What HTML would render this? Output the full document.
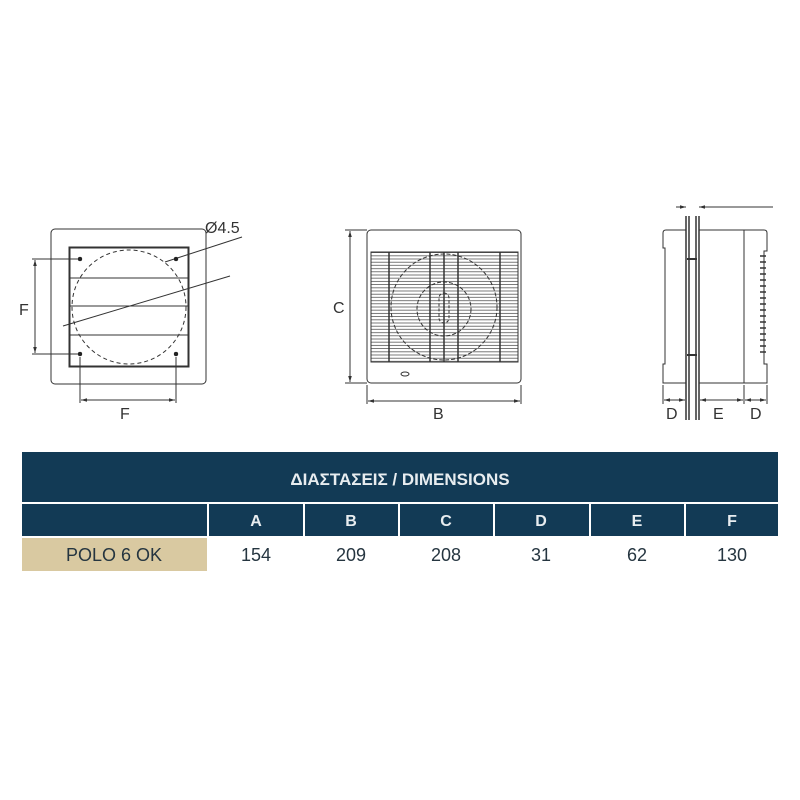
<!DOCTYPE html>
<html><head><meta charset="utf-8"><style>
body{margin:0;width:800px;height:800px;background:#fff;overflow:hidden;font-family:"Liberation Sans",sans-serif}
svg{position:absolute;left:0;top:0}
</style></head><body>
<svg width="800" height="800" viewBox="0 0 800 800" xmlns="http://www.w3.org/2000/svg">
<defs>
<pattern id="hb" x="371" y="252" width="10" height="6.4" patternUnits="userSpaceOnUse">
<line x1="0" y1="0.6" x2="10" y2="0.6" stroke="#555" stroke-width="0.8"/>
<line x1="0" y1="3.8" x2="10" y2="3.8" stroke="#555" stroke-width="0.8"/>
</pattern>
<marker id="ar" viewBox="0 0 10 10" refX="10" refY="5" markerWidth="6" markerHeight="6" orient="auto-start-reverse"><path d="M0,2 L10,5 L0,8 z" fill="#333"/></marker>
</defs>
<g fill="none" stroke="#333" stroke-width="1">
<!-- LEFT -->
<rect x="51" y="229" width="155" height="155" rx="4"/>
<rect x="69.5" y="247.5" width="119" height="119" stroke-width="2"/>
<line x1="70" y1="278" x2="188" y2="278"/>
<line x1="70" y1="306" x2="188" y2="306"/>
<line x1="70" y1="335" x2="188" y2="335"/>
<circle cx="129" cy="307" r="57" stroke-dasharray="4,3"/>
<line x1="165" y1="262" x2="242" y2="237"/>
<line x1="63" y1="326" x2="230" y2="276"/>
<line x1="32" y1="259" x2="78" y2="259"/>
<line x1="32" y1="354" x2="78" y2="354"/>
<line x1="35" y1="260" x2="35" y2="353" marker-start="url(#ar)" marker-end="url(#ar)"/>
<line x1="80" y1="357" x2="80" y2="403"/>
<line x1="176" y1="357" x2="176" y2="403"/>
<line x1="81" y1="400" x2="175" y2="400" marker-start="url(#ar)" marker-end="url(#ar)"/>
<!-- MIDDLE -->
<rect x="367" y="230" width="154" height="153" rx="4"/>
<rect x="371" y="252" width="147" height="110" fill="url(#hb)" stroke="#333"/>
<g stroke-width="1.5">
<line x1="389" y1="252" x2="389" y2="362"/><line x1="430" y1="252" x2="430" y2="362"/>
<line x1="444" y1="252" x2="444" y2="362"/><line x1="458" y1="252" x2="458" y2="362"/>
<line x1="500" y1="252" x2="500" y2="362"/>
</g>
<circle cx="444" cy="307" r="53" stroke-dasharray="4,2"/>
<circle cx="444" cy="309" r="27" stroke-dasharray="4,2"/>
<rect x="439" y="293" width="10" height="30" rx="5" stroke-dasharray="3,2"/>
<ellipse cx="405" cy="374" rx="4" ry="2"/>
<line x1="345" y1="230" x2="367" y2="230"/>
<line x1="345" y1="383" x2="367" y2="383"/>
<line x1="350" y1="231" x2="350" y2="382" marker-start="url(#ar)" marker-end="url(#ar)"/>
<line x1="367" y1="385" x2="367" y2="404"/>
<line x1="521" y1="385" x2="521" y2="404"/>
<line x1="368" y1="401" x2="520" y2="401" marker-start="url(#ar)" marker-end="url(#ar)"/>
<!-- RIGHT -->
<path d="M686,230 H666 Q663,230 663,233 V248 H665 V364 H663 V383 H686"/>
<path d="M699,230 H764 Q767,230 767,233 V251 H764 V364 H767 V383 H699"/>
<line x1="744" y1="230" x2="744" y2="383"/>
<g stroke-width="1.5"><line x1="686" y1="216" x2="686" y2="420"/><line x1="689" y1="216" x2="689" y2="420"/>
<line x1="696" y1="216" x2="696" y2="420"/><line x1="699" y1="216" x2="699" y2="420"/></g>
<line x1="687" y1="259" x2="697" y2="259" stroke-width="2"/>
<line x1="687" y1="355" x2="697" y2="355" stroke-width="2"/>
<g stroke-width="1.5">
<line x1="760" y1="256" x2="766" y2="256"/><line x1="760" y1="262" x2="766" y2="262"/><line x1="760" y1="268" x2="766" y2="268"/>
<line x1="760" y1="274" x2="766" y2="274"/><line x1="760" y1="280" x2="766" y2="280"/><line x1="760" y1="286" x2="766" y2="286"/>
<line x1="760" y1="292" x2="766" y2="292"/><line x1="760" y1="298" x2="766" y2="298"/><line x1="760" y1="304" x2="766" y2="304"/>
<line x1="760" y1="310" x2="766" y2="310"/><line x1="760" y1="316" x2="766" y2="316"/><line x1="760" y1="322" x2="766" y2="322"/>
<line x1="760" y1="328" x2="766" y2="328"/><line x1="760" y1="334" x2="766" y2="334"/><line x1="760" y1="340" x2="766" y2="340"/>
<line x1="760" y1="346" x2="766" y2="346"/><line x1="760" y1="352" x2="766" y2="352"/>
</g>
<line x1="676" y1="207" x2="686" y2="207" marker-end="url(#ar)"/>
<line x1="709" y1="207" x2="773" y2="207"/>
<line x1="709" y1="207" x2="699" y2="207" marker-end="url(#ar)"/>
<line x1="663" y1="385" x2="663" y2="404"/>
<line x1="744" y1="385" x2="744" y2="404"/>
<line x1="767" y1="385" x2="767" y2="404"/>
<line x1="664" y1="400" x2="685" y2="400" marker-start="url(#ar)" marker-end="url(#ar)"/>
<line x1="700" y1="400" x2="743" y2="400" marker-start="url(#ar)" marker-end="url(#ar)"/>
<line x1="745" y1="400" x2="766" y2="400" marker-start="url(#ar)" marker-end="url(#ar)"/>
</g>
<g fill="#222" stroke="#222" stroke-width="0.5">
<circle cx="80" cy="259" r="2"/><circle cx="80" cy="354" r="2"/><circle cx="176" cy="354" r="2"/><circle cx="176" cy="259" r="2"/>
</g>
<g font-family="Liberation Sans, sans-serif" font-size="16" fill="#333">
<text x="205" y="233">Ø4.5</text>
<text x="19" y="315">F</text>
<text x="120" y="419">F</text>
<text x="333" y="313">C</text>
<text x="433" y="419">B</text>
<text x="666" y="419">D</text>
<text x="713" y="419">E</text>
<text x="750" y="419">D</text>
</g>
<!-- TABLE -->
<rect x="22" y="452" width="756" height="50" fill="#123a55"/>
<text x="400" y="485" text-anchor="middle" font-size="17" font-weight="bold" fill="#e8edf0" font-family="Liberation Sans, sans-serif">ΔΙΑΣΤΑΣΕΙΣ / DIMENSIONS</text>
<g fill="#123a55">
<rect x="22" y="504" width="185" height="32"/>
<rect x="209" y="504" width="94" height="32"/>
<rect x="305" y="504" width="93" height="32"/>
<rect x="400" y="504" width="93" height="32"/>
<rect x="495" y="504" width="94" height="32"/>
<rect x="591" y="504" width="93" height="32"/>
<rect x="686" y="504" width="92" height="32"/>
</g>
<g font-family="Liberation Sans, sans-serif" font-size="16" font-weight="bold" fill="#e8edf0" text-anchor="middle">
<text x="256" y="526">A</text><text x="351" y="526">B</text><text x="446" y="526">C</text>
<text x="541" y="526">D</text><text x="637" y="526">E</text><text x="732" y="526">F</text>
</g>
<rect x="22" y="538" width="185" height="33" fill="#d9c9a1"/>
<g font-family="Liberation Sans, sans-serif" font-size="18" fill="#253540" text-anchor="middle">
<text x="114" y="561">POLO 6 OK</text>
<text x="256" y="561">154</text><text x="351" y="561">209</text><text x="446" y="561">208</text>
<text x="541" y="561">31</text><text x="637" y="561">62</text><text x="732" y="561">130</text>
</g>
</svg>
</body></html>
